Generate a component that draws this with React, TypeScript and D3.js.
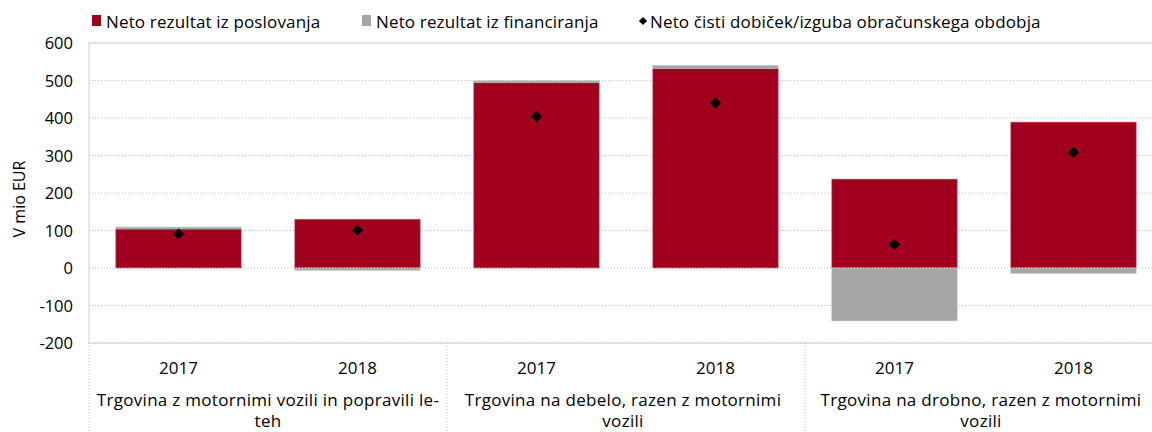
import React from "react";
import * as d3 from "d3";

const groups = [
  ["Trgovina z motornimi vozili in popravili le-", "teh"],
  ["Trgovina na debelo, razen z motornimi", "vozili"],
  ["Trgovina na drobno, razen z motornimi", "vozili"],
];
const years = ["2017", "2018"];
const poslovanje = [104, 130, 494, 532, 237, 389];
const financiranje = [5, -6, 5, 8, -141, -14];
const neto = [91, 101, 404, 440, 63, 308];
const yTicks = [-200, -100, 0, 100, 200, 300, 400, 500, 600];

const W = 1152;
const H = 432;
const font = "'Open Sans', 'Liberation Sans', sans-serif";
const RED = "#A0001E";
const GRAY = "#A6A6A6";

export default function App() {
  const keys = groups.flatMap((g, gi) => years.map((y) => gi + "-" + y));
  const x = d3.scaleBand().domain(keys).range([89, 1163]).paddingInner(0.3).paddingOuter(0.15);
  const y = d3.scaleLinear().domain([-200, 600]).range([343, 43]);
  const groupW = (1163 - 89) / groups.length;

  const stack = keys.map((k, i) => {
    const p = poslovanje[i];
    const f = financiranje[i];
    const red = [Math.min(0, p), Math.max(0, p)];
    const gray = f >= 0 ? [Math.max(0, p), Math.max(0, p) + f] : [Math.min(0, p) + f, Math.min(0, p)];
    return { k, red, gray, n: neto[i] };
  });

  // rotated square marker
  const diamond = d3.symbol(d3.symbolSquare, 60)();

  return (
    <svg width={W} height={H} style={{ position: "absolute", left: 0, top: 0, overflow: "hidden" }} fontFamily={font}>
      <rect width={W} height={H} fill="#fff" />
      {/* legend */}
      <g fontSize={17} letterSpacing={0.15} fill="#000">
        <rect x={92} y={15} width={9} height={11} fill={RED} />
        <text x={106} y={28}>Neto rezultat iz poslovanja</text>
        <rect x={362} y={15} width={9} height={11} fill={GRAY} />
        <text x={376} y={28}>Neto rezultat iz financiranja</text>
        <path d={diamond} transform="translate(643,21) rotate(45) scale(0.75)" fill="#000" />
        <text x={650} y={28}>Neto čisti dobiček/izguba obračunskega obdobja</text>
      </g>
      {/* grid */}
      {yTicks.map((t) => (
        <line key={t} x1={89} x2={W} y1={y(t)} y2={y(t)} stroke="#BFBFBF" strokeDasharray="1,2" />
      ))}
      {/* bars */}
      {stack.map((s) => (
        <g key={s.k}>
          <rect x={x(s.k)} width={x.bandwidth()} y={y(s.red[1])} height={y(s.red[0]) - y(s.red[1])} fill={RED} stroke="#C8475E" strokeWidth={0.6} />
          <rect x={x(s.k)} width={x.bandwidth()} y={y(s.gray[1])} height={y(s.gray[0]) - y(s.gray[1])} fill={GRAY} stroke="#BDBDBD" strokeWidth={0.6} />
        </g>
      ))}
      <line x1={89} x2={W} y1={y(0)} y2={y(0)} stroke="#D9D9D9" strokeDasharray="1,2" />
      {stack.map((s) => (
        <path key={"d" + s.k} d={diamond} transform={`translate(${x(s.k)! + x.bandwidth() / 2},${y(s.n)}) rotate(45)`} fill="#000" />
      ))}
      {/* frame */}
      <rect x={89} y={43} width={W} height={300} fill="none" stroke="#D0D0D0" strokeWidth={1} />
      {/* y axis */}
      <g fontSize={16.5} textAnchor="end">
        {yTicks.map((t) => (
          <text key={t} x={73} y={y(t) + 6}>{t}</text>
        ))}
      </g>
      <text transform="translate(25,199) rotate(-90)" textAnchor="middle" fontSize={16}>V  mio EUR</text>
      {/* x axis */}
      {d3.range(groups.length + 1).map((i) => (
        <line key={i} x1={89 + i * groupW} x2={89 + i * groupW} y1={343} y2={H} stroke="#BFBFBF" strokeDasharray="1,2" />
      ))}
      <g fontSize={17} textAnchor="middle">
        {keys.map((k, i) => (
          <text key={k} x={x(k)! + x.bandwidth() / 2} y={374}>{years[i % 2]}</text>
        ))}
        {groups.map((g, gi) => {
          const cx = 89 + (gi + 0.5) * groupW - labelShift(gi);
          return (
            <text key={gi} x={cx} y={406} letterSpacing={0.3}>
              <tspan x={cx}>{g[0]}</tspan>
              <tspan x={cx} dy={21}>{g[1]}</tspan>
            </text>
          );
        })}
      </g>
    </svg>
  );
}

function labelShift(gi: number) {
  // labels sit slightly left of the group centre
  return gi === 0 ? 0 : 3;
}
